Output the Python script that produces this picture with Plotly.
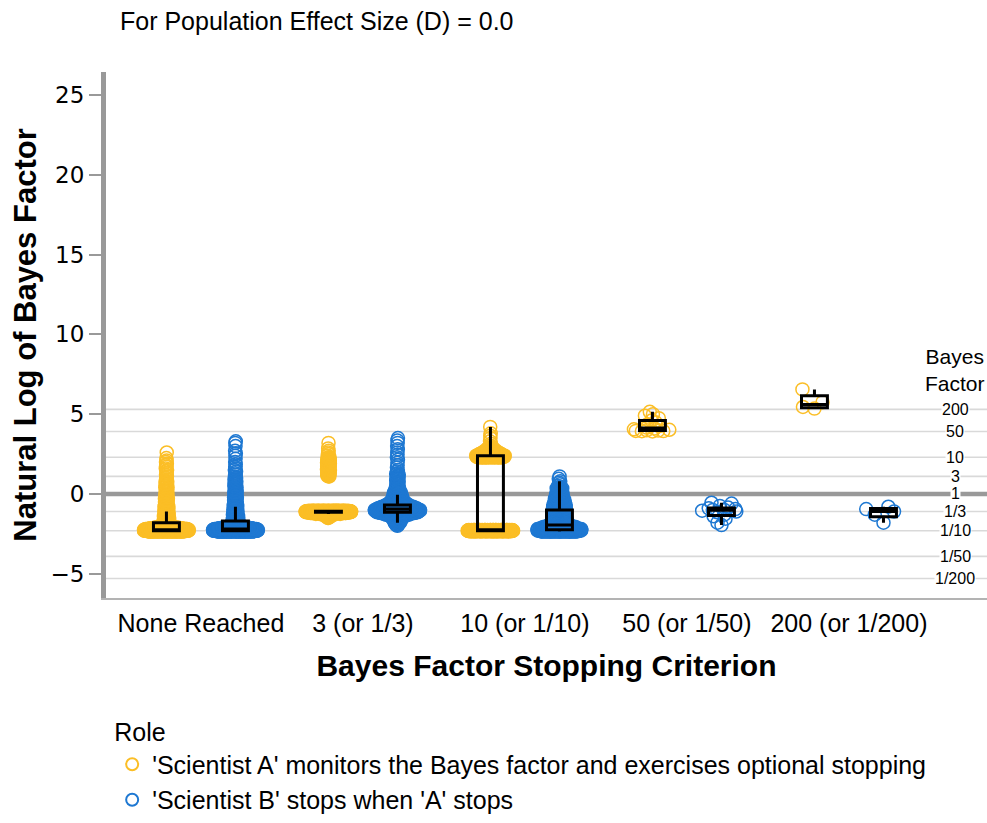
import numpy as np
import plotly.graph_objects as go

# ---------------------------------------------------------------------------
# Data: natural-log Bayes factors at the stopping point, per stopping rule.
# Dense groups are given as value bins with the number of simulations in each.
# ---------------------------------------------------------------------------
criteria = ["None Reached", "3 (or 1/3)", "10 (or 1/10)", "50 (or 1/50)", "200 (or 1/200)"]
role_a = "'Scientist A' monitors the Bayes factor and exercises optional stopping"
role_b = "'Scientist B' stops when 'A' stops"

# None Reached
a_none_lnbf = [-2.35, -2.3, -2.25, -2.2, -2.15,
               -2.1, -2.0, -1.9, -1.8, -1.7, -1.6, -1.5, -1.4, -1.3, -1.2, -1.1,
               -1.0, -0.9, -0.8, -0.7, -0.6, -0.5, -0.4, -0.3, -0.2, -0.1,
               0.0, 0.1, 0.2, 0.3, 0.4, 0.5, 0.6, 0.7, 0.8,
               0.9, 1.0, 1.1, 1.2, 1.3, 1.4, 1.5, 1.6, 1.7, 1.8, 1.9, 2.0, 2.1,
               2.25, 2.6]
a_none_n = [40, 100, 80, 45, 25,
            14, 10, 9, 8, 7, 7, 6, 6, 5, 5, 5,
            4, 4, 4, 4, 3, 3, 3, 3, 3, 3,
            2, 2, 2, 2, 2, 2, 2, 2, 2,
            1, 1, 1, 1, 1, 1, 1, 1, 1, 1, 1, 1, 1,
            1, 1]
b_none_lnbf = [-2.35, -2.3, -2.25, -2.2, -2.15,
               -2.1, -2.0, -1.9, -1.8, -1.7, -1.6, -1.5, -1.4, -1.3, -1.2, -1.1,
               -1.0, -0.9, -0.8, -0.7, -0.6, -0.5, -0.4, -0.3, -0.2, -0.1,
               0.0, 0.1, 0.2, 0.3, 0.4, 0.5, 0.6, 0.7, 0.8, 0.9, 1.0,
               1.1, 1.2, 1.3, 1.4, 1.5, 1.6, 1.7, 1.85, 2.0, 2.2, 2.4, 2.55,
               2.7, 3.0, 3.2, 3.3]
b_none_n = [45, 100, 85, 50, 28,
            16, 12, 10, 9, 8, 7, 7, 6, 6, 5, 5,
            5, 4, 4, 4, 4, 3, 3, 3, 3, 3,
            3, 3, 2, 2, 2, 2, 2, 2, 2, 2, 2,
            1, 1, 1, 1, 1, 1, 1, 1, 1, 1, 1, 1,
            1, 1, 1, 1]

# 3 (or 1/3)
a_3_lnbf = [-1.5, -1.45, -1.4, -1.35, -1.3, -1.25, -1.2, -1.15, -1.12, -1.1, -1.08, -1.05,
            1.1, 1.15, 1.2, 1.25, 1.3, 1.35, 1.4, 1.45, 1.5, 1.55, 1.6, 1.65, 1.7,
            1.75, 1.8, 1.85, 1.9, 1.95, 2.0, 2.05, 2.1, 2.15, 2.2, 2.25, 2.3,
            2.4, 2.5, 2.6, 2.7, 2.85, 3.2]
a_3_n = [2, 2, 3, 3, 4, 8, 30, 70, 90, 100, 60, 25,
         2, 2, 2, 2, 2, 2, 2, 2, 2, 2, 2, 2, 2,
         2, 2, 2, 2, 2, 2, 2, 2, 2, 2, 2, 2,
         1, 1, 1, 1, 1, 1]
b_3_lnbf = [-2.0, -1.95, -1.9, -1.85, -1.8, -1.75, -1.7, -1.65, -1.6, -1.55, -1.5,
            -1.45, -1.4, -1.35, -1.3, -1.25, -1.2,
            -1.15, -1.1, -1.05, -1.0, -0.95,
            -0.9, -0.85, -0.8, -0.75, -0.7,
            -0.65, -0.6, -0.55, -0.5, -0.45, -0.4, -0.35, -0.3, -0.25, -0.2,
            -0.15, -0.1, -0.05, 0.0, 0.05, 0.1, 0.15, 0.2, 0.25,
            0.3, 0.35, 0.4, 0.45, 0.5, 0.55, 0.6, 0.65, 0.7, 0.75, 0.8,
            0.85, 0.9, 0.95, 1.0, 1.05, 1.1, 1.15, 1.2, 1.25, 1.3,
            1.4, 1.5, 1.65, 1.8, 1.95, 2.15, 2.3, 2.45, 2.6, 2.8, 3.0, 3.2, 3.35, 3.5]
b_3_n = [1, 1, 2, 2, 3, 3, 3, 4, 4, 5, 5,
         6, 7, 9, 12, 18, 25,
         35, 42, 45, 42, 36,
         30, 25, 22, 18, 15,
         12, 10, 9, 8, 7, 6, 6, 5, 5, 5,
         4, 4, 4, 4, 3, 3, 3, 3, 3,
         1, 1, 1, 1, 1, 1, 1, 1, 1, 1, 1,
         1, 1, 1, 1, 1, 1, 1, 1, 1, 1,
         1, 1, 1, 1, 1, 1, 1, 1, 1, 1, 1, 1, 1, 1]

# 10 (or 1/10)
a_10_lnbf = [-2.34, -2.32, -2.3, -2.28, -2.26,
             2.3, 2.33, 2.36, 2.4, 2.45, 2.5, 2.55, 2.6, 2.65, 2.7, 2.75, 2.8, 2.85, 2.9,
             3.0, 3.15, 3.3, 3.5, 3.65, 3.8, 4.2]
a_10_n = [25, 60, 95, 60, 25,
          35, 33, 30, 27, 22, 18, 15, 12, 10, 8, 6, 5, 4, 3,
          1, 1, 1, 1, 1, 1, 1]
b_10_lnbf = [-2.35, -2.3, -2.25, -2.2, -2.15, -2.1, -2.05, -2.0, -1.95, -1.9,
             -1.85, -1.8, -1.75, -1.7, -1.65, -1.6, -1.55, -1.5, -1.45, -1.4,
             -1.35, -1.3, -1.25, -1.2, -1.15, -1.1, -1.05, -1.0, -0.95,
             -0.9, -0.85, -0.8, -0.75, -0.7, -0.65, -0.6, -0.55, -0.5, -0.45, -0.4,
             -0.35, -0.3, -0.25, -0.2, -0.15, -0.1, -0.05, 0.0, 0.05, 0.1, 0.15,
             0.2, 0.25, 0.3, 0.35, 0.4, 0.45, 0.5, 0.6, 0.7, 0.8, 0.95, 1.1]
b_10_n = [35, 45, 30, 26, 22, 19, 15, 12, 10, 8,
          7, 7, 6, 6, 6, 6, 6, 5, 5, 5,
          5, 5, 5, 5, 5, 5, 5, 5, 5,
          6, 6, 6, 5, 5, 5, 5, 4, 4, 4, 4,
          3, 3, 3, 3, 3, 3, 2, 2, 2, 2, 2,
          2, 2, 2, 2, 2, 1, 1, 1, 1, 1, 1, 1]

# 50 (or 1/50)
a_50_lnbf = [3.92, 3.93, 3.94, 3.95, 3.97, 3.99, 4.02, 4.05, 4.1, 4.15, 4.25, 4.35,
             4.5, 4.6, 4.75, 4.9, 5.0, 5.15]
b_50_lnbf = [-1.95, -1.8, -1.55, -1.4, -1.3, -1.15, -1.1, -1.05, -1.0, -1.0, -0.95,
             -0.9, -0.85, -0.75, -0.6, -0.55]

# 200 (or 1/200)
a_200_lnbf = [5.35, 5.45, 5.75, 6.55]
b_200_lnbf = [-1.8, -1.3, -1.1, -0.95, -0.8]

# Reference Bayes factors shown on the right-hand side
bf_labels = ["200", "50", "10", "3", "1", "1/3", "1/10", "1/50", "1/200"]
bf_values = [200, 50, 10, 3, 1, 1 / 3, 1 / 10, 1 / 50, 1 / 200]

y_ticks = [-5, 0, 5, 10, 15, 20, 25]

groups_a = [(a_none_lnbf, a_none_n), (a_3_lnbf, a_3_n), (a_10_lnbf, a_10_n),
            (a_50_lnbf, None), (a_200_lnbf, None)]
groups_b = [(b_none_lnbf, b_none_n), (b_3_lnbf, b_3_n), (b_10_lnbf, b_10_n),
            (b_50_lnbf, None), (b_200_lnbf, None)]

# ---------------------------------------------------------------------------
# Styling / layout constants
# ---------------------------------------------------------------------------
YELLOW = "#FBBE26"
BLUE = "#1E78D2"
GRID = "#d9d9d9"
AXIS = "#999999"
DODGE = 0.213        # horizontal shift of each role within a criterion
HALF = 0.142         # maximum half-width of a swarm
BW = 0.10            # smoothing bandwidth for the swarm outline

X_RANGE = [-0.586, 4.852]
Y_RANGE = [-6.52, 26.44]


def van_der_corput(n, base=2):
    v, denom = 0.0, 1.0
    while n:
        n, r = divmod(n, base)
        denom *= base
        v += r / denom
    return v


def expand(vals, counts):
    vals = np.asarray(vals, float)
    if counts is None:
        return np.sort(vals)
    return np.sort(np.repeat(vals, counts))


def quasirandom(y, bw=BW, power=0.75):
    """Quasirandom beeswarm offsets: width follows the local density."""
    d = np.exp(-0.5 * ((y[:, None] - y[None, :]) / bw) ** 2).sum(axis=1)
    w = (d / d.max()) ** power
    q = np.array([van_der_corput(i + 1) for i in range(len(y))])
    return (q - 0.5) * 2.0 * w * HALF


fig = go.Figure()

box_traces = []
for role, color, groups, shift in [(role_a, YELLOW, groups_a, -DODGE),
                                   (role_b, BLUE, groups_b, DODGE)]:
    xs, ys = [], []
    for k, (vals, counts) in enumerate(groups):
        y = expand(vals, counts)
        off = quasirandom(y)
        xs.append(k + shift + off)
        ys.append(y)
        # Tukey box: whiskers stop at 1.5 IQR; the outlying points are already
        # drawn by the swarm, so the box's own outlier markers are hidden.
        box_traces.append(go.Box(
            y=y, x0=k + shift, width=0.16, boxpoints="outliers",
            marker=dict(size=0.1, opacity=0, color="rgba(0,0,0,0)"),
            line=dict(color="black", width=3), fillcolor="rgba(0,0,0,0)",
            whiskerwidth=0, showlegend=False, hoverinfo="skip",
            xaxis="x", yaxis="y2"))
    fig.add_trace(go.Scatter(
        x=np.concatenate(xs), y=np.concatenate(ys), mode="markers", name=role,
        marker=dict(symbol="circle-open", size=13, color=color,
                    line=dict(width=1.5, color=color)),
        hoverinfo="skip"))

for bt in box_traces:
    fig.add_trace(bt)

# Horizontal reference lines at the Bayes factor thresholds
shapes = []
for v in bf_values:
    if v == 1:
        continue
    y = float(np.log(v))
    shapes.append(dict(type="line", xref="paper", x0=0, x1=1, yref="y", y0=y, y1=y,
                       line=dict(color=GRID, width=1.6), layer="below"))
shapes.append(dict(type="line", xref="paper", x0=0, x1=1, yref="y", y0=0, y1=0,
                   line=dict(color=AXIS, width=4.5), layer="below"))

annotations = []
for lab, v in zip(bf_labels, bf_values):
    annotations.append(dict(text=lab, xref="paper", x=0.9637, yref="y", y=float(np.log(v)),
                            showarrow=False, xanchor="center", yanchor="middle",
                            font=dict(family="Liberation Sans", size=16, color="black"),
                            bgcolor="white", borderpad=0))
annotations.append(dict(text="Bayes<br>Factor", xref="paper", x=0.9637, yref="y", y=7.75,
                        showarrow=False, xanchor="center", yanchor="middle", align="center",
                        font=dict(family="Liberation Sans", size=21, color="black")))

fig.update_layout(
    width=987, height=823,
    margin=dict(l=106, r=0, t=72, b=225, autoexpand=False),
    paper_bgcolor="white", plot_bgcolor="white",
    font=dict(family="Liberation Sans", color="black"),
    title=dict(text="For Population Effect Size (D) = 0.0", xref="container", x=120 / 987,
               xanchor="left", yref="container", y=1 - 21 / 823, yanchor="middle",
               font=dict(family="Liberation Sans", size=25, color="black")),
    xaxis=dict(range=X_RANGE, tickvals=list(range(len(criteria))), ticktext=criteria,
               showgrid=False, zeroline=False, showline=True, linecolor="#b3b3b3",
               linewidth=1.5, ticks="", ticklabelstandoff=2, automargin=False,
               tickfont=dict(family="Liberation Sans", size=25, color="black"),
               title=dict(text="Bayes Factor Stopping Criterion", standoff=19,
                          font=dict(family="Liberation Sans", size=30, color="black",
                                    weight="bold"))),
    yaxis=dict(range=Y_RANGE, tickvals=y_ticks, showgrid=False, zeroline=False,
               showline=True, linecolor=AXIS, linewidth=5, ticks="outside",
               ticklen=12, tickwidth=2, tickcolor=AXIS, automargin=False,
               tickfont=dict(family="DejaVu Sans", size=23, color="black"),
               title=dict(text="Natural Log of Bayes Factor", standoff=6,
                          font=dict(family="Liberation Sans", size=31, color="black",
                                    weight="bold"))),
    yaxis2=dict(range=Y_RANGE, overlaying="y", visible=False),
    shapes=shapes,
    annotations=annotations,
    showlegend=True,
    legend=dict(x=0.007, xanchor="left", y=-0.211, yanchor="top",
                title=dict(text="Role", side="top",
                           font=dict(family="Liberation Sans", size=25, color="black")),
                font=dict(family="Liberation Sans", size=25, color="black"),
                tracegroupgap=0, itemsizing="constant", bgcolor="rgba(0,0,0,0)"),
)

fig.write_html("out.html")
